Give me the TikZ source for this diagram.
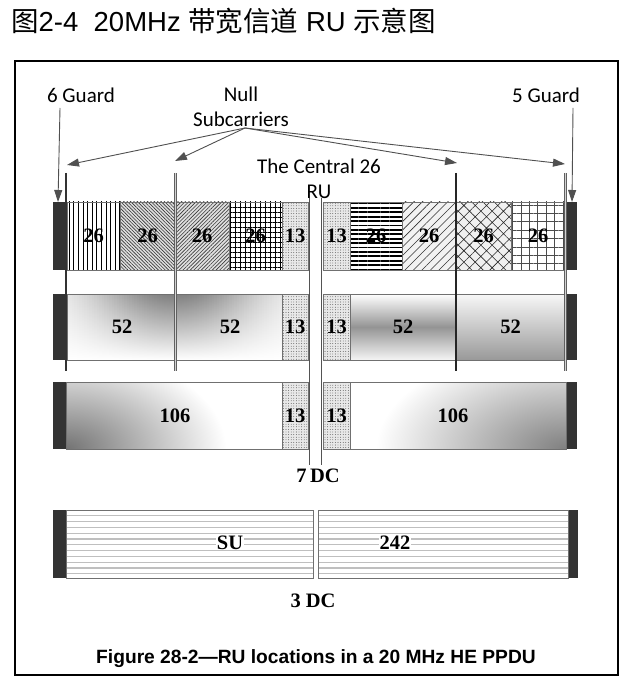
\documentclass[tikz,border=0pt]{standalone}
\usepackage{fontspec}
\setmainfont{Liberation Serif}
\newfontfamily\calfont{Carlito}
\newfontfamily\arialfont{Liberation Sans}
\newfontfamily\cjkfont{Noto Sans CJK SC}
\usetikzlibrary{patterns.meta,arrows.meta}
\definecolor{guardc}{HTML}{333333}
\definecolor{edgec}{HTML}{707070}
\definecolor{arrc}{HTML}{505050}
\begin{document}
\begin{tikzpicture}[x=1pt,y=-1pt,
  cell/.style={draw=edgec, line width=0.9pt, inner sep=0pt, outer sep=0pt,
    font=\bfseries\fontsize{20.5}{20.5}\selectfont, text=black},
  num/.style={inner sep=0pt, font=\bfseries\fontsize{20.5}{20.5}\selectfont, text=black},
  guardblk/.style={fill=guardc, draw=none, inner sep=0pt, outer sep=0pt},
  lbl/.style={inner sep=0pt, font=\calfont\fontsize{21}{24.5}\selectfont, align=center, text=black},
  pointer/.style={draw=arrc, line width=0.9pt, -{Triangle[length=12pt,width=8pt]}, arrc},
  nulldark/.style={draw=guardc, line width=2.8pt},
  nullgray/.style={draw=gray!75!black, line width=3pt},
  nullcore/.style={draw=gray!35, line width=0.8pt},
  dcline/.style={draw=gray!65!black, line width=0.9pt},
  stripe/.style={draw=gray!50, line width=1.1pt},
  dotcell/.style={cell, preaction={fill=gray!18}, pattern={Dots[distance=2.6pt,radius=0.42pt]}, pattern color=black!80}
]
\useasboundingbox (0,0) rectangle (640,692);

% title and frame
\node[anchor=west, inner sep=0pt, font=\fontsize{27.5}{27.5}\selectfont] (title) at (11,21)
  {{\cjkfont 图}{\arialfont 2-4\ \ 20MHz }{\cjkfont 带宽信道}{\arialfont\ RU }{\cjkfont 示意图}};
\draw[line width=1.4pt] (15,61) rectangle (618,675);

% ---------- row 1 ----------
\node[guardblk, minimum width=14pt, minimum height=68pt] (g1l) at (60,236) {};
\node[guardblk, minimum width=11pt, minimum height=68pt] (g1r) at (571.5,236) {};
\node[cell, minimum width=53pt, minimum height=68pt, pattern={Lines[angle=90,distance=4.6pt,line width=0.6pt]}, pattern color=black] (c1) at (93.5,236) {};
\node[num] at (c1) {26};
\node[cell, minimum width=55pt, minimum height=68pt, preaction={fill=gray!25}, pattern={Lines[angle=-45,distance=2.4pt,line width=0.6pt]}, pattern color=gray!40!black] (c2) at (147.5,236) {};
\node[num] at (c2) {26};
\node[cell, minimum width=54pt, minimum height=68pt, preaction={fill=gray!25}, pattern={Lines[angle=45,distance=2.6pt,line width=0.6pt]}, pattern color=gray!45!black] (c3) at (202,236) {};
\node[num] at (c3) {26};
\node[cell, minimum width=53pt, minimum height=68pt, pattern={Hatch[angle=0,distance=5pt,line width=0.9pt]}, pattern color=black] (c4) at (255.5,236) {};
\node[num] at (c4) {26};
\node[dotcell, minimum width=26pt, minimum height=68pt] (c5) at (295,236) {};
\node[num] at (c5) {13};
\node[dotcell, minimum width=27pt, minimum height=68pt] (c6) at (336.5,236) {};
\node[num] at (c6) {13};
\node[cell, minimum width=52pt, minimum height=68pt, pattern={Lines[angle=0,distance=4.4pt,line width=1.8pt]}, pattern color=black] (c7) at (376,236) {};
\node[num] at (c7) {26};
\node[cell, minimum width=54pt, minimum height=68pt, preaction={fill=gray!10}, pattern={Lines[angle=45,distance=6pt,line width=0.6pt]}, pattern color=black!80] (c8) at (429,236) {};
\node[num] at (c8) {26};
\node[cell, minimum width=55pt, minimum height=68pt, preaction={fill=gray!12}, pattern={Hatch[angle=45,distance=8pt,line width=0.6pt]}, pattern color=black!85] (c9) at (483.5,236) {};
\node[num] at (c9) {26};
\node[cell, minimum width=54pt, minimum height=68pt, pattern={Hatch[angle=0,distance=8.4pt,line width=0.5pt]}, pattern color=gray!60!black] (c10) at (538,236) {};
\node[num] at (c10) {26};

% ---------- row 2 ----------
\node[guardblk, minimum width=13pt, minimum height=66pt] (g2l) at (59.5,327) {};
\node[guardblk, minimum width=11pt, minimum height=66pt] (g2r) at (571.5,327) {};
\foreach \i in {0,...,85} {
  \pgfmathsetmacro\xa{67+\i*2.5}
  \pgfmathsetmacro\xb{\xa+2.6}
  \pgfmathsetmacro\gv{50*exp(-((\xa+1.25-175)*(\xa+1.25-175))/7225)}
  \shade[top color=black!\gv, bottom color=white] (\xa,294) rectangle (\xb,360);
}
\node[cell, minimum width=215pt, minimum height=66pt] (r2a) at (174.5,327) {};
\node[num] (t52a) at (122,327) {52};
\node[num] (t52b) at (230,327) {52};
\node[dotcell, minimum width=26pt, minimum height=66pt] (r2b) at (295,327) {};
\node[num] at (r2b) {13};
\node[dotcell, minimum width=27pt, minimum height=66pt] (r2c) at (336.5,327) {};
\node[num] at (r2c) {13};
\node[cell, minimum width=106pt, minimum height=66pt, top color=white, bottom color=black!4, middle color=black!42] (r2d) at (403,327) {};
\node[num] at (r2d) {52};
\node[cell, minimum width=109pt, minimum height=66pt, top color=black!3, bottom color=black!40] (r2e) at (510.5,327) {};
\node[num] at (r2e) {52};

% ---------- row 3 ----------
\node[guardblk, minimum width=13pt, minimum height=67pt] (g3l) at (59.5,415.5) {};
\node[guardblk, minimum width=11pt, minimum height=67pt] (g3r) at (571.5,415.5) {};
\begin{scope}
  \clip (66,382) rectangle (282,449);
  \fill[white] (66,382) rectangle (282,449);
  \shade[inner color=black!55, outer color=white] (66,449) ellipse [x radius=160, y radius=100];
\end{scope}
\node[cell, minimum width=216pt, minimum height=67pt] (r3a) at (174,415.5) {};
\node[num] at (175,415.5) {106};
\node[dotcell, minimum width=26pt, minimum height=67pt] (r3b) at (295,415.5) {};
\node[num] at (r3b) {13};
\node[dotcell, minimum width=27pt, minimum height=67pt] (r3c) at (336.5,415.5) {};
\node[num] at (r3c) {13};
\begin{scope}
  \clip (350,382) rectangle (566,449);
  \fill[white] (350,382) rectangle (566,449);
  \shade[inner color=black!50, outer color=white] (566,449) ellipse [x radius=190, y radius=105];
\end{scope}
\node[cell, minimum width=216pt, minimum height=67pt] (r3d) at (458,415.5) {};
\node[num] at (453,415.5) {106};

% ---------- row 4 ----------
\node[guardblk, minimum width=13pt, minimum height=68pt] (g4l) at (59.5,544) {};
\node[guardblk, minimum width=10pt, minimum height=68pt] (g4r) at (573,544) {};
\foreach \k in {1,...,11} {
  \draw[stripe] (66,510+\k*5.8) -- (313,510+\k*5.8);
  \draw[stripe] (318,510+\k*5.8) -- (568,510+\k*5.8);
}
\node[cell, minimum width=247pt, minimum height=68pt] (r4a) at (189.5,544) {};
\node[cell, minimum width=250pt, minimum height=68pt] (r4b) at (443,544) {};
\node[num, fill=white, inner sep=0.5pt] (su) at (230,543) {SU};
\node[num, fill=white, inner sep=0.5pt] (n242) at (395,543) {242};

% ---------- DC lines ----------
\coordinate (dc1t) at (309.5,198);
\coordinate (dc1b) at (309.5,465);
\coordinate (dc2t) at (321.5,198);
\coordinate (dc2b) at (321.5,465);
\draw[dcline] (dc1t) -- (dc1b);
\draw[dcline] (dc2t) -- (dc2b);
\node[num] (dc7) at (318,476) {7\,DC};
\node[num] (dc3) at (313,601) {3 DC};

% ---------- null subcarrier lines ----------
\coordinate (n1t) at (66,173);   \coordinate (n1b) at (66,371);
\coordinate (n2t) at (175,173);  \coordinate (n2b) at (175,371);
\coordinate (n3t) at (456,173);  \coordinate (n3b) at (456,371);
\coordinate (n4t) at (565,173);  \coordinate (n4b) at (565,371);
\draw[nulldark] (n1t) -- (n1b);
\draw[nullgray] (n2t) -- (n2b);
\draw[nullcore] (n2t) -- (n2b);
\draw[nulldark, line width=2.4pt, draw=gray!30!black] (n3t) -- (n3b);
\draw[nullgray] (n4t) -- (n4b);
\draw[nullcore] (n4t) -- (n4b);

% ---------- labels and pointers ----------
\node[lbl] (g6) at (81,95) {6 Guard};
\node[lbl] (g5) at (546,95) {5 Guard};
\node[lbl] (nulls) at (241,107) {Null\\Subcarriers};
\node[lbl] (central) at (319,179) {The Central 26\\RU};
\coordinate (nsrc) at (245,128);
\coordinate (a1) at (67,165);
\coordinate (a2) at (175,161);
\coordinate (a3) at (457,163);
\coordinate (a4) at (565,164);
\draw[pointer] (nsrc) -- (a1);
\draw[pointer] (nsrc) -- (a2);
\draw[pointer] (nsrc) -- (a3);
\draw[pointer] (nsrc) -- (a4);
\coordinate (g6t) at (60,108);
\coordinate (g6h) at (58,202);
\coordinate (g5t) at (573,108);
\coordinate (g5h) at (572,202);
\draw[pointer] (g6t) -- (g6h);
\draw[pointer] (g5t) -- (g5h);

% caption
\node[inner sep=0pt, font=\arialfont\bfseries\fontsize{19.2}{19.2}\selectfont] (cap) at (316,659)
  {Figure 28-2—RU locations in a 20 MHz HE PPDU};
\end{tikzpicture}
\end{document}
